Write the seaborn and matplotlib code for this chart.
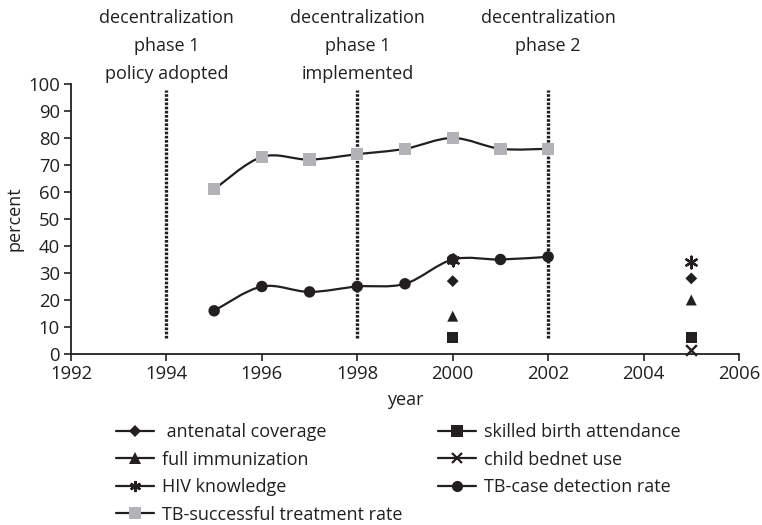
import numpy as np
import pandas as pd
import matplotlib
matplotlib.use("Agg")
import matplotlib.pyplot as plt
import matplotlib.transforms as mtrans
from matplotlib.path import Path
from matplotlib.patches import PathPatch
from matplotlib.lines import Line2D
import seaborn as sns

# ---- data ----
tb_years = [1995, 1996, 1997, 1998, 1999, 2000, 2001, 2002]
tb_success = [61, 73, 72, 74, 76, 80, 76, 76]
tb_detection = [16, 25, 23, 25, 26, 35, 35, 36]

survey_years = [2000, 2005]
antenatal = [27, 28]
skilled_birth = [6, 6]
full_immun = [14, 20]
bednet_years = [2005]
bednet = [1.5]
hiv_knowledge = [35, 34]

event_years = [1994, 1998, 2002]
event_labels = ["decentralization\nphase 1\npolicy adopted",
                "decentralization\nphase 1\nimplemented",
                "decentralization\nphase 2"]

x_ticks = list(range(1992, 2007, 2))
y_ticks = list(range(0, 101, 10))

sns.set_theme(style="ticks")
plt.rcParams['font.family'] = ['Open Sans', 'DejaVu Sans']
FS = 13
TFS = 13.3

fig = plt.figure(figsize=(7.62, 5.25), dpi=100)
L, R, B, T = 71, 739, 354, 84
ax = fig.add_axes([L/762, 1-B/525, (R-L)/762, (B-T)/525])

def smooth_path(xs, ys):
    xs = np.asarray(xs, float); ys = np.asarray(ys, float)
    pts = np.column_stack([xs, ys])
    verts = [pts[0]]
    codes = [Path.MOVETO]
    n = len(pts)
    for i in range(n - 1):
        p0 = pts[i-1] if i > 0 else pts[i]
        p1 = pts[i]
        p2 = pts[i+1]
        p3 = pts[i+2] if i + 2 < n else pts[i+1]
        c1 = p1 + (p2 - p0) / 6.0
        c2 = p2 - (p3 - p1) / 6.0
        verts += [c1, c2, p2]
        codes += [Path.CURVE4] * 3
    return Path(verts, codes)

line_col = "#231f20"
for ys in (tb_success, tb_detection):
    ax.add_patch(PathPatch(smooth_path(tb_years, ys), fill=False,
                           edgecolor=line_col, lw=1.6, zorder=2))

df_tb = pd.DataFrame({"year": tb_years, "succ": tb_success, "det": tb_detection})
sns.scatterplot(data=df_tb, x="year", y="succ", marker="s", s=78,
                color="#b1b3b6", edgecolor="none", ax=ax, zorder=3)
sns.scatterplot(data=df_tb, x="year", y="det", marker="o", s=68,
                color=line_col, edgecolor="none", ax=ax, zorder=3)

df_s = pd.DataFrame({"year": survey_years, "ant": antenatal, "sba": skilled_birth,
                     "imm": full_immun, "hiv": hiv_knowledge})
sns.scatterplot(data=df_s, x="year", y="ant", marker="D", s=36, color=line_col,
                edgecolor="none", ax=ax, zorder=4)
sns.scatterplot(data=df_s, x="year", y="sba", marker="s", s=66, color=line_col,
                edgecolor="none", ax=ax, zorder=4)
sns.scatterplot(data=df_s, x="year", y="imm", marker="^", s=62, color=line_col,
                edgecolor="none", ax=ax, zorder=4)
ax.scatter(survey_years, hiv_knowledge, marker=(6, 2, 0), s=70, color=line_col,
           linewidths=1.7, zorder=5)
ax.scatter(bednet_years, bednet, marker="x", s=60, color=line_col,
           linewidths=1.7, zorder=5, clip_on=False)

blend = mtrans.blended_transform_factory(ax.transData, fig.transFigure)
for yr, lab in zip(event_years, event_labels):
    ax.vlines(yr, 5.8, 97.8, colors=line_col, linestyles=(0, (0.8, 0.45)),
              lw=2.4, zorder=1)
    ax.text(yr, 1-9/525, lab, transform=blend,
            ha="center", va="top", fontsize=FS, color=line_col, linespacing=1.72)

ax.set_xlim(1992, 2006)
ax.set_ylim(0, 100)
ax.set_xticks(x_ticks)
ax.set_yticks(y_ticks)
ax.tick_params(axis="both", labelsize=TFS, length=5, width=1.2, colors=line_col,
               labelcolor=line_col, pad=3)
for sp in ("top", "right"):
    ax.spines[sp].set_visible(False)
for sp in ("left", "bottom"):
    ax.spines[sp].set_color(line_col)
    ax.spines[sp].set_linewidth(1.3)
ax.set_xlabel("year", fontsize=FS, color=line_col, labelpad=6)
ax.set_ylabel("percent", fontsize=FS, color=line_col)
ax.yaxis.set_label_coords((24 - L)/(R - L), 0.5)
ax.set_facecolor("white")

def h(marker, ms, color=line_col, mew=0):
    return Line2D([0], [0], color=line_col, lw=1.6, marker=marker, markersize=ms,
                  markerfacecolor=color, markeredgecolor=color, markeredgewidth=mew)

handles = [h("D", 6), h("^", 8), h((6, 2, 0), 8, mew=1.7), h("s", 9, "#b1b3b6"),
           h("s", 8), h("x", 7, mew=1.6), h("o", 8)]
labels = [" antenatal coverage", "full immunization", "HIV knowledge",
          "TB-successful treatment rate", "skilled birth attendance",
          "child bednet use", "TB-case detection rate"]
fig.legend(handles, labels, ncol=2, loc="upper left",
           bbox_to_anchor=(116/762, 1-423/525), frameon=False, fontsize=FS,
           handlelength=2.1, handletextpad=0.45, columnspacing=1.95,
           labelspacing=0.53, borderpad=0, borderaxespad=0, labelcolor=line_col)

fig.savefig("out.png", dpi=100, facecolor="white")
